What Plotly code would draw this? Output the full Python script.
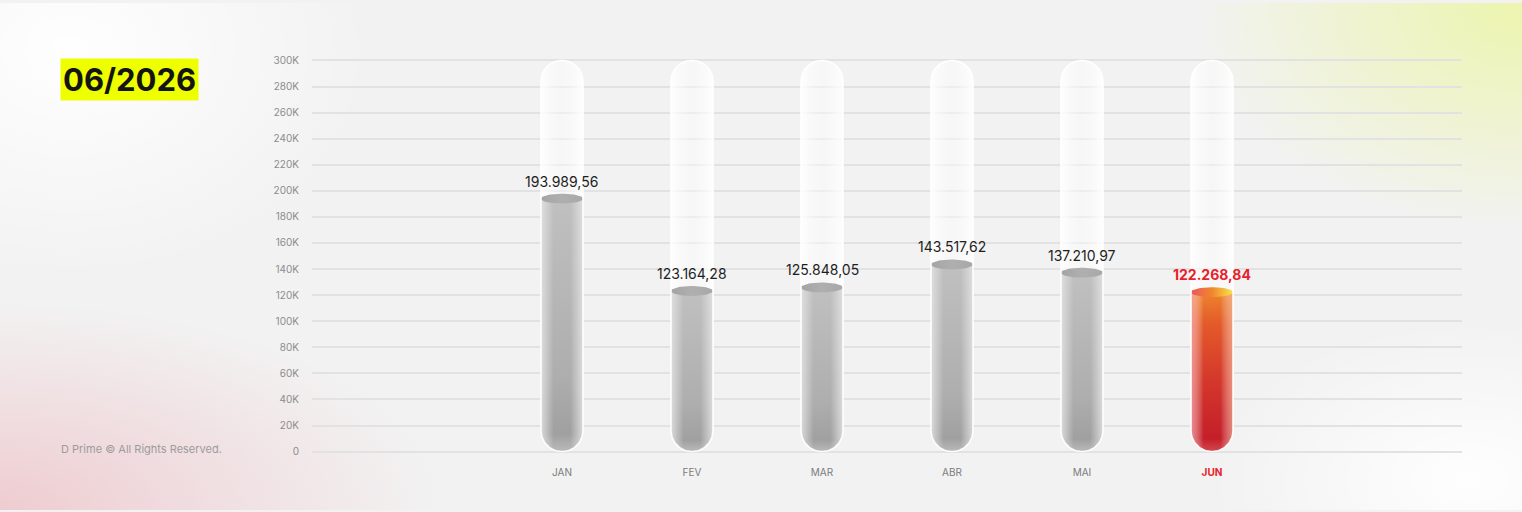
import numpy as np
import plotly.graph_objects as go

# ---------------- data ----------------
months = ["JAN", "FEV", "MAR", "ABR", "MAI", "JUN"]
values = [193989.56, 123164.28, 125848.05, 143517.62, 137210.97, 122268.84]
y_ticks = list(range(0, 300001, 20000))
y_tick_labels = ["0"] + [f"{v // 1000}K" for v in y_ticks[1:]]
period_label = "06/2026"
footer_text = "D Prime © All Rights Reserved."
highlight_index = 5

# ---------------- layout constants ----------------
W, H = 1522, 512
X_DOM_PX = (312, 1462)
X_RANGE = (-1.923, 6.923)
Y_RANGE = (-3000, 303000)
TOP_PX, ZERO_PX = 58.0, 453.0          # pixel rows (from top) of 300K and 0
_ppu = (ZERO_PX - TOP_PX) / 300000
Y_DOM_PX = (H - ZERO_PX - 3000 * _ppu, H - TOP_PX + 3000 * _ppu)  # from bottom
px_x = (X_DOM_PX[1] - X_DOM_PX[0]) / (X_RANGE[1] - X_RANGE[0])
px_y = (Y_DOM_PX[1] - Y_DOM_PX[0]) / (Y_RANGE[1] - Y_RANGE[0])
HALF_W = 21 / px_x
CAP_RY = 21 / px_y
ELL_RY = 5 / px_y
Y_MAX = y_ticks[-1]


def fmt_br(v):
    s = f"{v:,.2f}"
    return s.replace(",", "X").replace(".", ",").replace("X", ".")


def capsule(cx, y0, y1, round_bottom=True, round_top=True, n=40):
    xs, ys = [], []
    if round_bottom:
        t = np.linspace(np.pi, 2 * np.pi, n)
        xs += list(cx + HALF_W * np.cos(t))
        ys += list(y0 + CAP_RY + CAP_RY * np.sin(t))
    else:
        xs += [cx - HALF_W, cx + HALF_W]
        ys += [y0, y0]
    if round_top:
        t = np.linspace(0, np.pi, n)
        xs += list(cx + HALF_W * np.cos(t))
        ys += list(y1 - CAP_RY + CAP_RY * np.sin(t))
    else:
        xs += [cx + HALF_W, cx - HALF_W]
        ys += [y1, y1]
    xs.append(xs[0])
    ys.append(ys[0])
    return xs, ys


def ellipse(cx, cy, rx, ry, n=60):
    t = np.linspace(0, 2 * np.pi, n)
    return list(cx + rx * np.cos(t)), list(cy + ry * np.sin(t))


fig = go.Figure()

# ---------------- background glows (full-paper axes) ----------------
glows = [
    ((70, 465), (300, 230), "rgba(255,255,255,0.95)"),
    ((0, 0), (440, 210), "rgba(238,200,205,0.9)"),
    ((1522, 512), (330, 230), "rgba(236,245,170,0.95)"),
    ((1470, 30), (260, 160), "rgba(255,255,255,0.95)"),
]
for (gx, gy), (rx, ry), col in glows:
    ex, ey = ellipse(gx, gy, rx, ry, 120)
    fig.add_trace(go.Scatter(
        x=ex, y=ey, mode="lines", fill="toself", line=dict(width=0),
        fillgradient=dict(type="radial",
                          colorscale=[[0, col], [1, col.rsplit(",", 1)[0] + ",0)"]]),
        xaxis="x", yaxis="y", hoverinfo="skip", showlegend=False))

# ---------------- tubes ----------------
for i, m in enumerate(months):
    tx, ty = capsule(i, 0, Y_MAX)
    fig.add_trace(go.Scatter(
        x=tx, y=ty, mode="lines", fill="toself", line=dict(width=0),
        fillgradient=dict(type="horizontal", colorscale=[
            [0, "rgba(255,255,255,0.9)"], [0.25, "rgba(255,255,255,0.55)"],
            [0.5, "rgba(255,255,255,0.35)"], [0.75, "rgba(255,255,255,0.55)"],
            [1, "rgba(255,255,255,0.9)"]]),
        xaxis="x2", yaxis="y2", hoverinfo="skip", showlegend=False))

# ---------------- value bars ----------------
for i, v in enumerate(values):
    bx, by = capsule(i, 0, v, round_bottom=True, round_top=False)
    hi = i == highlight_index
    if hi:
        vscale = [[0, "#d24a4e"], [0.08, "#c41f2a"], [0.45, "#d4382b"],
                  [0.8, "#e35a2a"], [1, "#ee842e"]]
        hscale = [[0, "rgba(245,170,175,0.75)"], [0.3, "rgba(255,255,255,0)"],
                  [0.7, "rgba(255,255,255,0)"], [1, "rgba(248,190,160,0.65)"]]
        escale = [[0, "#ec5560"], [0.5, "#f0862e"], [1, "#f8e64a"]]
    else:
        vscale = [[0, "#bababa"], [0.07, "#a0a0a0"], [0.3, "#aeaeae"], [1, "#c0c0c0"]]
        hscale = [[0, "rgba(228,228,228,0.85)"], [0.3, "rgba(228,228,228,0)"],
                  [0.7, "rgba(228,228,228,0)"], [1, "rgba(228,228,228,0.85)"]]
        escale = [[0, "#a4a4a4"], [0.5, "#afafaf"], [1, "#a8a8a8"]]
    fig.add_trace(go.Scatter(
        x=bx, y=by, mode="lines", fill="toself", line=dict(width=0),
        fillgradient=dict(type="vertical", colorscale=vscale),
        xaxis="x2", yaxis="y2", hoverinfo="skip", showlegend=False))
    fig.add_trace(go.Scatter(
        x=bx, y=by, mode="lines", fill="toself", line=dict(width=0),
        fillgradient=dict(type="horizontal", colorscale=hscale),
        xaxis="x2", yaxis="y2", hoverinfo="skip", showlegend=False))
    ex, ey = ellipse(i, v, HALF_W, ELL_RY)
    fig.add_trace(go.Scatter(
        x=ex, y=ey, mode="lines", fill="toself", line=dict(width=0),
        fillgradient=dict(type="horizontal", colorscale=escale),
        xaxis="x2", yaxis="y2", hoverinfo="skip", showlegend=False))

# ---------------- tube outlines ----------------
for i, m in enumerate(months):
    tx, ty = capsule(i, 0, Y_MAX)
    fig.add_trace(go.Scatter(
        x=tx, y=ty, mode="lines", line=dict(color="rgba(255,255,255,0.95)", width=1.6),
        xaxis="x2", yaxis="y2", hoverinfo="skip", showlegend=False))

# ---------------- value labels ----------------
annotations = []
for i, v in enumerate(values):
    hi = i == highlight_index
    annotations.append(dict(
        x=i, y=v, xref="x2", yref="y2", yanchor="bottom", yshift=7,
        text=f"<b>{fmt_br(v)}</b>" if hi else fmt_br(v), showarrow=False,
        font=dict(family="Inter", size=14, color="#e8212b" if hi else "#1e1e1e")))

annotations.append(dict(
    x=60 / W, y=(H - 77.5) / H, xref="paper", yref="paper", xanchor="left", yanchor="middle",
    text=f"<b>{period_label}</b>", showarrow=False, bgcolor="#eeff00", borderpad=2,
    font=dict(family="Inter", size=31, color="#141414")))
annotations.append(dict(
    x=59 / W, y=(H - 450) / H, xref="paper", yref="paper", xanchor="left", yanchor="middle",
    text=footer_text, showarrow=False,
    font=dict(family="Inter", size=11, color="#9c9c9c")))

x_tick_text = [f'<span style="color:#e8212b"><b>{m}</b></span>' if i == highlight_index else m
               for i, m in enumerate(months)]

fig.update_layout(
    width=W, height=H,
    margin=dict(l=0, r=0, t=0, b=0),
    paper_bgcolor="#f2f2f2",
    plot_bgcolor="rgba(0,0,0,0)",
    showlegend=False,
    hovermode=False,
    annotations=annotations,
    xaxis=dict(domain=[0, 1], range=[0, W], visible=False, fixedrange=True),
    yaxis=dict(domain=[0, 1], range=[0, H], visible=False, fixedrange=True),
    xaxis2=dict(domain=[X_DOM_PX[0] / W, X_DOM_PX[1] / W], range=list(X_RANGE),
                anchor="y2", showgrid=False, zeroline=False, showline=False,
                tickvals=list(range(len(months))), ticktext=x_tick_text,
                tickfont=dict(family="Inter", size=10, color="#7c7c7c"),
                ticks="", ticklabelstandoff=10),
    yaxis2=dict(domain=[Y_DOM_PX[0] / H, Y_DOM_PX[1] / H], range=list(Y_RANGE),
                anchor="x2", showgrid=True, gridcolor="#e2e2e2", gridwidth=1.5,
                zeroline=False, showline=False,
                tickvals=y_ticks, ticktext=y_tick_labels,
                tickfont=dict(family="Inter", size=10, color="#8c8c8c"),
                ticks="", ticklabelstandoff=12),
)

fig.write_html("out.html", config={"displayModeBar": False},
               post_script="document.body.style.margin='0px';document.body.style.overflow='hidden';")
